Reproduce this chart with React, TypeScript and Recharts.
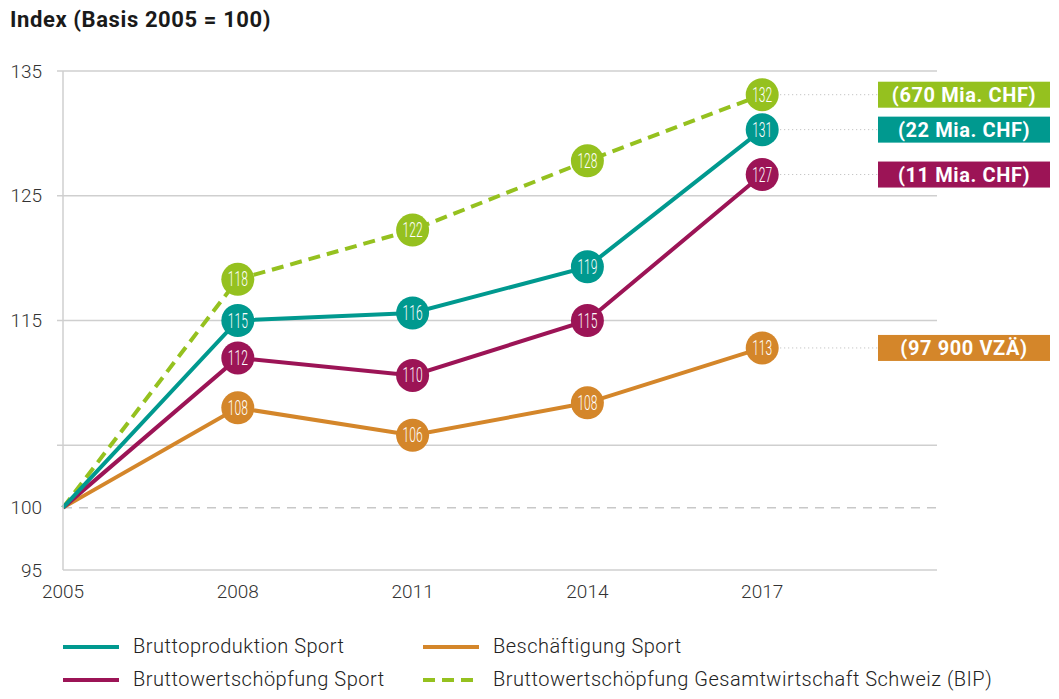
import React from 'react';
import { ComposedChart, Line, XAxis, YAxis, CartesianGrid, ReferenceLine } from 'recharts';

const years = [2005, 2008, 2011, 2014, 2017];

// positions, labels as printed in the circles
const produktion = [100, 115, 115.6, 119.3, 130.3];
const produktionLabels = ['', '115', '116', '119', '131'];
const wertschoepfung = [100, 112, 110.6, 115, 126.7];
const wertschoepfungLabels = ['', '112', '110', '115', '127'];
const beschaeftigung = [100, 108, 105.8, 108.4, 112.8];
const beschaeftigungLabels = ['', '108', '106', '108', '113'];
const bip = [100, 118.3, 122.25, 127.8, 133.1];
const bipLabels = ['', '118', '122', '128', '132'];

const yTicks = [95, 100, 105, 115, 125, 135];
const yLabelled = [95, 100, 115, 125, 135];
const gridValues = [105, 115, 125, 135];

const FONT = 'Roboto, "Noto Sans", sans-serif';
const TEAL = '#00998f';
const PURPLE = '#9c1456';
const ORANGE = '#d4862a';
const GREEN = '#95c11f';

const series = [
  { key: 'bip', name: 'Bruttowertschöpfung Gesamtwirtschaft Schweiz (BIP)', color: GREEN, labels: bipLabels, box: '(670 Mia. CHF)', dashed: true },
  { key: 'beschaeftigung', name: 'Beschäftigung Sport', color: ORANGE, labels: beschaeftigungLabels, box: '(97 900 VZÄ)', dashed: false },
  { key: 'wertschoepfung', name: 'Bruttowertschöpfung Sport', color: PURPLE, labels: wertschoepfungLabels, box: '(11 Mia. CHF)', dashed: false },
  { key: 'produktion', name: 'Bruttoproduktion Sport', color: TEAL, labels: produktionLabels, box: '(22 Mia. CHF)', dashed: false },
];

const data = years.map((year, i) => ({
  year,
  produktion: produktion[i],
  wertschoepfung: wertschoepfung[i],
  beschaeftigung: beschaeftigung[i],
  bip: bip[i],
}));

const BOX_X = 878;
const BOX_W = 172;

const makeDot = (color: string, labels: string[], box: string) => (props: any) => {
  const { cx, cy, index } = props;
  if (index === 0) return <g key={`d-${index}`} />;
  const last = index === years.length - 1;
  return (
    <g key={`d-${index}`}>
      {last && (
        <g>
          <line x1={cx + 18} y1={cy} x2={BOX_X} y2={cy} stroke="#b8b8b8" strokeWidth={1} strokeDasharray="1 3" />
          <rect x={BOX_X} y={cy - 13} width={BOX_W} height={26} fill={color} />
          <text
            x={BOX_X + BOX_W / 2}
            y={cy + 7}
            textAnchor="middle"
            fill="#fff"
            fontFamily={FONT}
            fontWeight={700}
            fontSize={20}
            letterSpacing={0.6}
          >
            {box}
          </text>
        </g>
      )}
      <circle cx={cx} cy={cy} r={16.5} fill={color} />
      <text
        x={cx}
        y={cy + 7}
        textAnchor="middle"
        fill="#fff"
        fontFamily={FONT}
        fontWeight={300}
        fontSize={20}
        textLength={20}
        lengthAdjust="spacingAndGlyphs"
      >
        {labels[index]}
      </text>
    </g>
  );
};

const YTick = (props: any) => {
  const { x, y, payload } = props;
  const v = payload.value;
  return (
    <g>
      {gridValues.includes(v) && <line x1={x + 15} y1={y} x2={x + 21} y2={y} stroke="#cfcfcf" strokeWidth={1.5} />}
      {yLabelled.includes(v) && (
        <text x={x} y={y + 6.5} textAnchor="end" fill="#333" fontFamily={FONT} fontWeight={300} fontSize={19}>
          {v}
        </text>
      )}
    </g>
  );
};

const legendRows = [
  [series[3], series[1]],
  [series[2], series[0]],
];

export default function App() {
  return (
    <div style={{ position: 'absolute', left: 0, top: 0, width: 1059, height: 699, background: '#fff' }}>
      <div
        style={{
          position: 'absolute',
          left: 10,
          top: 7,
          fontFamily: FONT,
          fontWeight: 700,
          fontSize: 22,
          letterSpacing: 0.6,
          color: '#1a1a1a',
        }}
      >
        Index (Basis 2005 = 100)
      </div>
      <ComposedChart width={1059} height={699} data={data} margin={{ top: 71, right: 122, bottom: 99, left: 0 }}>
        <CartesianGrid horizontal vertical={false} horizontalValues={gridValues} stroke="#cfcfcf" strokeWidth={1.5} />
        <ReferenceLine y={100} stroke="#c8c8c8" strokeWidth={1.5} strokeDasharray="9 7" />
        <XAxis
          dataKey="year"
          type="number"
          domain={[2005, 2020]}
          ticks={years}
          height={30}
          axisLine={{ stroke: '#cfcfcf', strokeWidth: 1.5 }}
          tickLine={false}
          tickSize={0}
          tickMargin={15}
          tick={{ fill: '#333', fontFamily: FONT, fontWeight: 300, fontSize: 19 }}
        />
        <YAxis
          type="number"
          domain={[95, 135]}
          ticks={yTicks}
          width={63}
          interval={0}
          axisLine={{ stroke: '#cfcfcf', strokeWidth: 1.5 }}
          tickLine={false}
          tickSize={0}
          tickMargin={21}
          tick={<YTick />}
        />
        {series.map((s) => (
          <Line
            key={s.key}
            dataKey={s.key}
            name={s.name}
            type="linear"
            stroke={s.color}
            strokeWidth={4}
            strokeDasharray={s.dashed ? '12 7' : undefined}
            dot={makeDot(s.color, s.labels, s.box)}
            activeDot={false}
            isAnimationActive={false}
          />
        ))}
      </ComposedChart>
      {legendRows.map((row, r) => (
        <div key={r}>
          {row.map((s, c) => {
            const lx = c === 0 ? 63 : 423;
            const y = r === 0 ? 647 : 680;
            return (
              <div key={s.key}>
                <svg style={{ position: 'absolute', left: lx, top: y - 3 }} width={56} height={6}>
                  <line x1={0} y1={3} x2={56} y2={3} stroke={s.color} strokeWidth={4} strokeDasharray={s.dashed ? '12 7' : undefined} />
                </svg>
                <div
                  style={{
                    position: 'absolute',
                    left: lx + 70,
                    top: y - 13,
                    fontFamily: FONT,
                    fontWeight: 300,
                    fontSize: 20,
                    letterSpacing: 0.5,
                    lineHeight: '24px',
                    color: '#222',
                    whiteSpace: 'nowrap',
                  }}
                >
                  {s.name}
                </div>
              </div>
            );
          })}
        </div>
      ))}
    </div>
  );
}
